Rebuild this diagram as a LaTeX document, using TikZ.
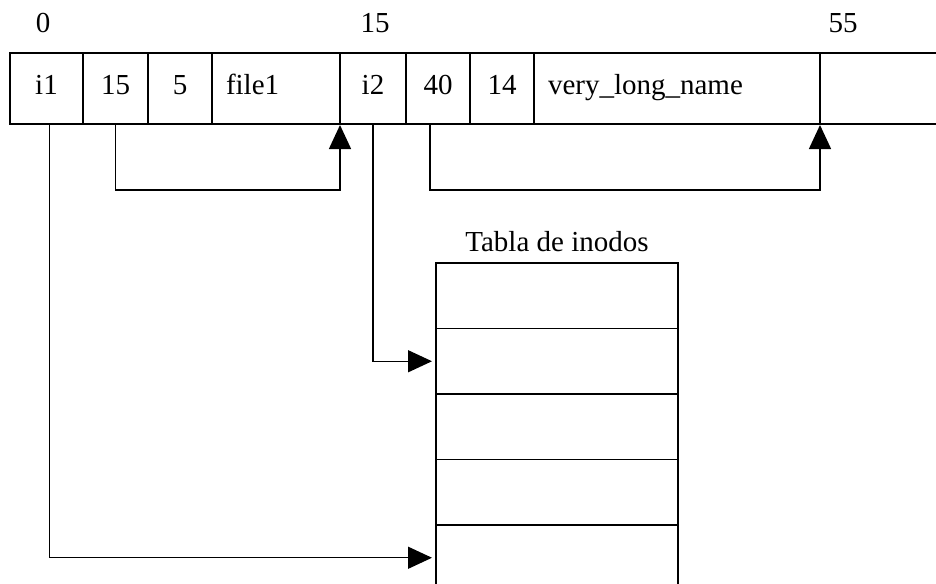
\documentclass[tikz,border=0pt]{standalone}
\usepackage{fontspec}
\setmainfont{Liberation Serif}
\usetikzlibrary{positioning, arrows.meta}

\begin{document}
\begin{tikzpicture}[x=1pt, y=-1pt, line width=1.4pt, node distance=0pt,
    every node/.style={font=\fontsize{29}{33}\selectfont},
    cell/.style={draw, minimum height=71pt, inner sep=0pt, outer sep=0pt, text height=20pt, text depth=7pt},
    slot/.style={draw, minimum width=242pt, minimum height=65.5pt, inner sep=0pt, outer sep=0pt},
    ptr/.style={-{Triangle[length=24pt,width=22pt]}, shorten >=1pt}]

  \useasboundingbox (0,0) rectangle (936,583);
  \clip (0,0) rectangle (936,583);

  % Offsets
  \node (off0)  at (43,23)  {0};
  \node (off15) at (375,23) {15};
  \node (off55) at (843,23) {55};

  % Directory entries
  \node[cell, minimum width=73pt, anchor=north west] (i1) at (10,53) {i1};
  \node[cell, minimum width=65pt] (len1) [right=of i1] {15};
  \node[cell, minimum width=64pt] (size1) [right=of len1] {5};
  \node[cell, text width=100pt, inner xsep=14pt, align=left] (name1) [right=of size1] {file1};
  \node[cell, minimum width=66pt] (i2) [right=of name1] {i2};
  \node[cell, minimum width=64pt] (len2) [right=of i2] {40};
  \node[cell, minimum width=64pt] (size2) [right=of len2] {14};
  \node[cell, text width=258pt, inner xsep=14pt, align=left] (name2) [right=of size2] {very\_long\_name};
  \node[cell, draw=none, minimum width=140pt] (free) [right=of name2] {};
  \draw (free.north west) -- (free.north east)
        (free.south west) -- (free.south east);

  % Inode table
  \node[slot, anchor=north west] (r1) at (436,263) {};
  \node[slot] (r2) [below=of r1] {};
  \node[slot] (r3) [below=of r2] {};
  \node[slot] (r4) [below=of r3] {};
  \node[slot] (r5) [below=of r4] {};
  \node (title) [above=7pt of r1] {Tabla de inodos};

  % Pointers
  \draw[ptr] (len1.south) -- ++(0,66) -| (name1.south east);
  \draw[ptr] ([xshift=-8pt]len2.south) -- ++(0,66) -| (name2.south east);
  \draw[ptr, shorten >=4pt] (i2.south) |- (r2.west);
  \draw[ptr, shorten >=4pt] ([xshift=3pt]i1.south) |- (r5.west);

\end{tikzpicture}
\end{document}
